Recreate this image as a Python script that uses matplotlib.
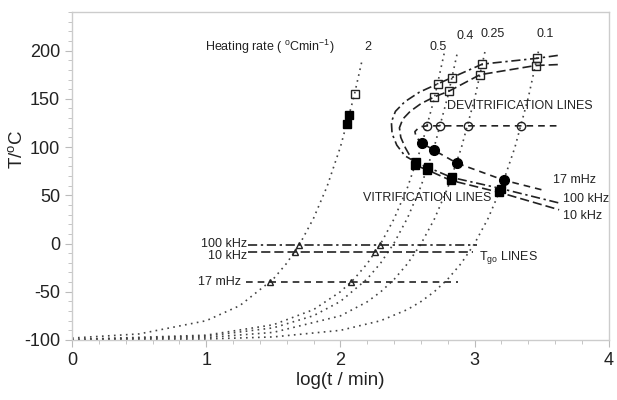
import matplotlib
matplotlib.use("Agg")
import matplotlib.pyplot as plt
from matplotlib.ticker import MultipleLocator

plt.rcParams['font.family'] = ['Liberation Sans', 'DejaVu Sans']
plt.rcParams['mathtext.fontset'] = 'custom'
plt.rcParams['mathtext.rm'] = 'Liberation Sans'
plt.rcParams['mathtext.it'] = 'Liberation Sans:italic'
plt.rcParams['axes.unicode_minus'] = False

## heating-rate curves (log t, T)
rate_labels = ['2', '0.5', '0.4', '0.25', '0.1']

x_q2 = [0, 0.5, 1.0, 1.25, 1.5, 1.6, 1.7, 1.8, 1.9, 2.0, 2.1, 2.16]
T_q2 = [-98, -93.7, -80, -64.4, -36.8, -20.4, 0.2, 26.2, 58.9, 100, 151.8, 189]

x_q05 = [0, 1.0, 1.5, 1.8, 2.0, 2.1, 2.2, 2.3, 2.4, 2.5, 2.6, 2.7, 2.778]
T_q05 = [-99.5, -95, -84.2, -68.5, -50, -37.1, -20.8, -0.2, 25.6, 58.1, 99.1, 150.6, 200]

x_q04 = [0, 1.0, 1.5, 1.8, 2.0, 2.2, 2.3, 2.4, 2.5, 2.6, 2.7, 2.8, 2.875]
T_q04 = [-99.6, -96, -87.4, -74.8, -60, -36.6, -20.2, 0.5, 26.5, 59.2, 100.5, 152.4, 200]

x_q025 = [0, 1.0, 1.5, 2.0, 2.2, 2.3, 2.4, 2.5, 2.6, 2.7, 2.8, 2.9, 3.0, 3.079]
T_q025 = [-99.75, -97.5, -92.1, -75, -60.4, -50.1, -37.2, -20.9, -0.5, 25.3, 57.8, 98.6, 150, 200]

x_q01 = [0, 1.0, 1.5, 2.0, 2.3, 2.5, 2.6, 2.7, 2.8, 2.9, 3.0, 3.1, 3.2, 3.3, 3.4, 3.477]
T_q01 = [-99.9, -99, -96.8, -90, -80, -68.4, -60.2, -49.9, -36.9, -20.6, 0, 25.9, 58.5, 99.5, 151.2, 200]

# label positions for the rates
rate_lab_x = [2.205, 2.726, 2.927, 3.138, 3.523]
rate_lab_T = [204, 204, 215, 217, 217]

## devitrification / vitrification lines
x_100k = [3.62, 3.465, 3.058, 2.83, 2.725, 2.59, 2.48, 2.41, 2.38, 2.385, 2.42, 2.48, 2.566, 2.651, 2.829, 3.196, 3.63]
T_100k = [195, 192, 186, 172, 165.5, 157, 147, 137, 126, 114, 102, 91, 84, 79, 68.5, 57, 42]

x_10k = [3.62, 3.454, 3.04, 2.81, 2.70, 2.60, 2.52, 2.465, 2.44, 2.45, 2.485, 2.53, 2.559, 2.645, 2.821, 3.185, 3.63]
T_10k = [185.5, 184.5, 175, 158, 152, 145, 137, 129, 120, 110, 99, 88, 81, 76.5, 65.5, 53, 35]

x_17m = [3.61, 3.346, 2.948, 2.744, 2.647, 2.59, 2.555, 2.565, 2.61, 2.694, 2.866, 3.219, 3.52]
T_17m = [122, 122, 122, 122, 122, 121, 116, 110, 104, 97, 83.5, 65.6, 55]

## Tgo lines
tg_100k_x = [1.31, 3.02]
tg_100k_T = [-2, -2]
tg_10k_x = [1.31, 2.99]
tg_10k_T = [-9, -9]
tg_17m_x = [1.30, 2.875]
tg_17m_T = [-40, -40]

## markers
tri_x = [1.690, 2.292, 1.658, 2.260, 1.477, 2.079]
tri_T = [-2, -2, -9, -9, -40, -40]

open_sq_x = [2.106, 2.725, 2.70, 2.83, 2.81, 3.058, 3.04, 3.465, 3.454]
open_sq_T = [155, 165.5, 152, 172, 158, 186, 175, 192, 184.5]

fill_sq_x = [2.066, 2.047, 2.566, 2.559, 2.651, 2.645, 2.829, 2.821, 3.196, 3.185]
fill_sq_T = [133, 123.5, 84, 81, 79, 76.5, 68.5, 65.5, 57, 53]

open_ci_x = [2.647, 2.744, 2.948, 3.346]
open_ci_T = [122, 122, 122, 122]

fill_ci_x = [2.61, 2.694, 2.866, 3.219]
fill_ci_T = [104, 97, 83.5, 65.6]

fig = plt.figure(figsize=(6.17, 4.0), dpi=100)
ax = fig.add_axes([0.1167, 0.15, 0.870, 0.82])

dot = (0, (1.0, 2.6))
dash = (0, (5.5, 2.4))
dashdot = (0, (5.5, 2.2, 1.4, 2.2))
dash17 = (0, (4.0, 3.0))
ink = '#222222'

for xs, ts in [(x_q2, T_q2), (x_q05, T_q05), (x_q04, T_q04), (x_q025, T_q025), (x_q01, T_q01)]:
    ax.plot(xs, ts, linestyle=dot, color='#444444', lw=1.2)

ax.plot(x_100k, T_100k, linestyle=dashdot, color=ink, lw=1.2)
ax.plot(x_10k, T_10k, linestyle=dash, color=ink, lw=1.2)
ax.plot(x_17m, T_17m, linestyle=dash17, color=ink, lw=1.2)

ax.plot(tg_100k_x, tg_100k_T, linestyle=dashdot, color=ink, lw=1.2)
ax.plot(tg_10k_x, tg_10k_T, linestyle=dash, color=ink, lw=1.2)
ax.plot(tg_17m_x, tg_17m_T, linestyle=dash17, color=ink, lw=1.2)

ax.plot(tri_x, tri_T, '^', ms=5, mfc='none', mec=ink, mew=1.0, ls='none', zorder=5)
ax.plot(open_sq_x, open_sq_T, 's', ms=5.5, mfc='none', mec=ink, mew=1.0, ls='none', zorder=5)
ax.plot(fill_sq_x, fill_sq_T, 's', ms=6, mfc='black', mec='black', ls='none', zorder=5)
ax.plot(open_ci_x, open_ci_T, 'o', ms=6, mfc='none', mec=ink, mew=1.0, ls='none', zorder=5)
ax.plot(fill_ci_x, fill_ci_T, 'o', ms=7, mfc='black', mec='black', ls='none', zorder=5)

# text
small = 9
for lab, lx, lt in zip(rate_labels, rate_lab_x, rate_lab_T):
    ax.text(lx, lt, lab, ha='center', va='center', fontsize=small, color=ink)
ax.text(0.99, 204, r'Heating rate ( $^{\rm o}$Cmin$^{-1}$)', ha='left', va='center', fontsize=small, color=ink)
ax.text(2.793, 143, 'DEVITRIFICATION LINES', ha='left', va='center', fontsize=small, color=ink)
ax.text(2.168, 47, 'VITRIFICATION LINES', ha='left', va='center', fontsize=small, color=ink)
ax.text(3.583, 65.6, '17 mHz', ha='left', va='center', fontsize=small, color=ink)
ax.text(3.657, 46, '100 kHz', ha='left', va='center', fontsize=small, color=ink)
ax.text(3.657, 29, '10 kHz', ha='left', va='center', fontsize=small, color=ink)
ax.text(1.305, -0.5, '100 kHz', ha='right', va='center', fontsize=small, color=ink)
ax.text(1.305, -12.5, '10 kHz', ha='right', va='center', fontsize=small, color=ink)
ax.text(1.26, -40, '17 mHz', ha='right', va='center', fontsize=small, color=ink)
ax.text(3.03, -14, r'T$_{\rm go}$ LINES', ha='left', va='center', fontsize=small, color=ink)

ax.set_xlim(0, 4)
ax.set_ylim(-100, 240)
ax.set_xticks([0, 1, 2, 3, 4])
ax.set_yticks([-100, -50, 0, 50, 100, 150, 200])
ax.xaxis.set_minor_locator(MultipleLocator(0.2))
ax.yaxis.set_minor_locator(MultipleLocator(10))
ax.tick_params(which='both', direction='out', color='#bbbbbb', labelsize=13, labelcolor=ink)
ax.tick_params(which='major', length=5)
ax.tick_params(which='minor', length=3)
for s in ax.spines.values():
    s.set_color('#cccccc')
    s.set_linewidth(1.0)

ax.set_xlabel('log(t / min)', fontsize=13.5, color=ink, labelpad=2)
ax.set_ylabel(r'T/$^{\rm o}$C', fontsize=13.5, color=ink)
ax.yaxis.set_label_coords(-0.085, 0.58)

fig.savefig('out.png', dpi=100)
